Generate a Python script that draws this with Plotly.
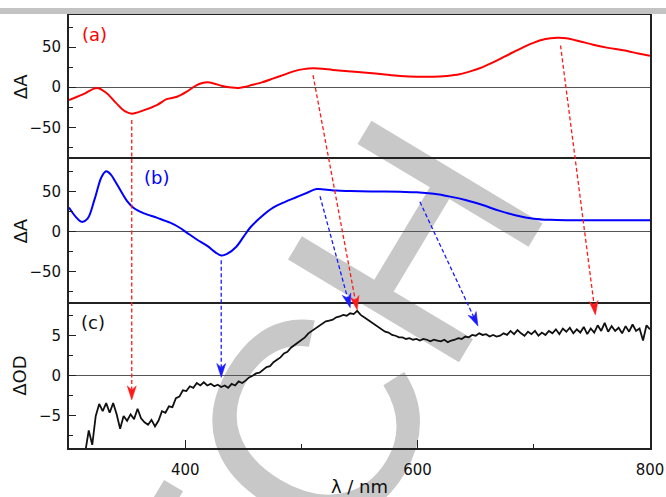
import plotly.graph_objects as go
from plotly.subplots import make_subplots

# ---------------- data ----------------
RED_WL = [300, 312, 324, 332, 340, 348, 354, 364, 376, 384, 393, 401, 406, 412, 419, 426,
          432, 440, 446, 452, 458, 466, 476, 486, 494, 502, 510, 518, 527, 540, 556, 570,
          585, 600, 613, 625, 636, 646, 656, 668, 680, 690, 699, 710, 720, 728, 740, 751,
          764, 777, 790, 800]
RED_DA = [-16, -9, -1, -7, -19, -30, -33, -29, -22, -15, -12, -6, -1, 4, 6, 4,
          1.5, -0.5, -1, 0.5, 3, 6, 11, 16, 20, 22.5, 23.5, 23, 21.5, 20, 18, 16,
          14, 13, 13, 14, 16, 20, 25, 33, 42, 49, 55, 60, 61.5, 61, 57, 53,
          49, 46, 42, 39]

BLUE_WL = [300, 306, 311, 316, 322, 328, 332, 336, 340, 344, 350, 356, 364, 376, 387, 395,
           401, 410, 419, 426, 431, 436, 444, 450, 456, 466, 476, 486, 496, 506, 513, 520,
           530, 542, 560, 585, 599, 614, 628, 642, 656, 670, 685, 700, 714, 730, 760, 800]
BLUE_DA = [30, 18, 12, 16, 40, 68, 75, 71, 62, 52, 38, 29, 23, 17, 11, 5,
           -1, -10, -18, -26, -30, -28, -19, -7, 5, 19, 30, 37, 43, 49, 53, 52.5,
           51, 50.5, 50, 49.5, 49, 47, 43.5, 39, 33, 26, 20, 16, 14.5, 14, 14, 14]

OD_WL = list(range(314, 801, 3))
OD = [-9.5, -6.8, -8.6, -5.0, -3.5, -4.4, -3.4, -4.6, -3.4, -4.8,
      -6.6, -5.0, -5.6, -4.8, -5.4, -4.1, -5.3, -5.8, -6.1, -5.5,
      -6.3, -5.6, -4.4, -4.6, -3.8, -3.9, -2.8, -2.6, -1.8, -1.9,
      -1.3, -1.5, -0.9, -1.2, -0.8, -1.2, -1.0, -1.3, -1.1, -1.4,
      -1.2, -1.5, -1.0, -1.2, -0.7, -0.9, -0.6, -0.2, 0.0, 0.3,
      0.4, 0.8, 1.1, 1.2, 1.7, 2.0, 2.3, 2.8, 3.0, 3.5,
      3.8, 4.1, 4.5, 4.8, 5.3, 5.6, 5.9, 6.2, 6.4, 6.8,
      6.9, 7.0, 7.3, 7.4, 7.6, 7.5, 7.8, 7.7, 8.1, 7.6,
      7.3, 7.0, 6.7, 6.4, 6.0, 5.8, 5.5, 5.4, 5.1, 5.0,
      4.8, 4.8, 4.6, 4.7, 4.5, 4.6, 4.4, 4.6, 4.5, 4.3,
      4.5, 4.4, 4.3, 4.5, 4.2, 4.4, 4.5, 4.7, 4.6, 4.9,
      4.8, 5.1, 5.0, 5.3, 5.1, 5.2, 4.9, 5.1, 4.9, 5.0,
      5.3, 5.1, 5.6, 5.2, 5.7, 5.3, 5.0, 5.5, 5.2, 5.6,
      5.0, 5.4, 5.1, 5.6, 5.3, 5.8, 5.2, 5.9, 5.5, 6.0,
      5.3, 5.8, 5.4, 6.1, 5.2, 5.9, 5.4, 6.3, 5.6, 6.6,
      5.5, 6.2, 5.6, 6.0, 5.3, 6.2, 5.5, 6.4, 5.6, 5.9,
      4.4, 6.3, 5.8]

# arrows: (colour, start wl, start panel, start value, end wl, end panel, end value)
ARROWS = [
    ("#ff1a1a", 354, "a", -41, 354, "c", -3.0),
    ("#1a1aff", 431, "b", -36, 431, "c", -0.2),
    ("#ff1a1a", 510, "a", 15, 548, "c", 8.2),
    ("#1a1aff", 516, "b", 44, 542, "c", 8.5),
    ("#1a1aff", 602, "b", 37, 652, "c", 6.2),
    ("#ff1a1a", 723, "a", 52, 753, "c", 7.6),
]

PANEL_LABELS = [("(a)", "a", 322, 66, "#ff0000"),
                ("(b)", "b", 375, 67, "#0000ff"),
                ("(c)", "c", 321, 6.6, "#111111")]
Y_TITLES = {"a": "ΔA", "b": "ΔA", "c": "ΔOD"}
X_TITLE = "λ / nm"
WATERMARK = [("E", 185, 584), ("C", 289, 412), ("H", 391, 227)]

X_RANGE = [300, 800]
Y_RANGE = {"a": [-90, 90], "b": [-90, 90], "c": [-9, 9]}
DOMAINS = {"a": (2 / 3, 1.0), "b": (1 / 3, 2 / 3), "c": (0.0, 1 / 3)}
AXIS = {"a": ("x", "y"), "b": ("x2", "y2"), "c": ("x3", "y3")}

# ---------------- geometry ----------------
W, H = 666, 497
ML, MR, MT, MB = 69, 16, 15, 49
PW, PH = W - ML - MR, H - MT - MB
FONT = "DejaVu Sans"
FRAME = "#222222"
LW = 1.8


def to_px(wl, panel, v):
    xp = (wl - X_RANGE[0]) / (X_RANGE[1] - X_RANGE[0])
    d0, d1 = DOMAINS[panel]
    r0, r1 = Y_RANGE[panel]
    yp = d0 + (v - r0) / (r1 - r0) * (d1 - d0)
    return ML + xp * PW, MT + (1 - yp) * PH


def to_paper(px, py):
    return (px - ML) / PW, 1 - (py - MT) / PH


fig = make_subplots(rows=3, cols=1, shared_xaxes=True, vertical_spacing=0)

fig.add_trace(go.Scatter(x=RED_WL, y=RED_DA, mode="lines",
                         line=dict(color="#ff0000", width=2, shape="spline", smoothing=1.0)),
              row=1, col=1)
fig.add_trace(go.Scatter(x=BLUE_WL, y=BLUE_DA, mode="lines",
                         line=dict(color="#0000ff", width=2, shape="spline", smoothing=1.0)),
              row=2, col=1)
fig.add_trace(go.Scatter(x=OD_WL, y=OD, mode="lines",
                         line=dict(color="#111111", width=1.8)),
              row=3, col=1)

shapes = []
# grey strip at the top of the page
shapes.append(dict(type="rect", xref="paper", yref="paper",
                   x0=(0 - ML) / PW, x1=(W - ML) / PW,
                   y0=1 - (14 - MT) / PH, y1=1 - (8 - MT) / PH,
                   fillcolor="#c3c3c3", line=dict(width=0), layer="above"))

# watermark letters (behind everything)
for letter, cx, cy in WATERMARK:
    xp, yp = to_paper(cx, cy)
    shapes.append(dict(type="rect", xref="paper", yref="paper",
                       x0=xp - 0.005, x1=xp + 0.005, y0=yp - 0.005, y1=yp + 0.005,
                       fillcolor="rgba(0,0,0,0)", line=dict(width=0), layer="below",
                       label=dict(text=letter, textangle=-59, textposition="middle center",
                                  font=dict(family="Liberation Sans", size=290, color="#c8c8c8"))))

# dashed arrows
HEAD_LEN, HEAD_HALF, NOTCH = 14, 4.5, 10
for col, w0, p0, v0, w1, p1, v1 in ARROWS:
    sx, sy = to_px(w0, p0, v0)
    tx, ty = to_px(w1, p1, v1)
    dx, dy = tx - sx, ty - sy
    n = (dx ** 2 + dy ** 2) ** 0.5
    ux, uy = dx / n, dy / n
    nx, ny = -uy, ux
    bx, by = tx - HEAD_LEN * ux, ty - HEAD_LEN * uy
    kx, ky = tx - NOTCH * ux, ty - NOTCH * uy
    a0 = to_paper(sx, sy)
    a1 = to_paper(kx, ky)
    shapes.append(dict(type="line", xref="paper", yref="paper",
                       x0=a0[0], y0=a0[1], x1=a1[0], y1=a1[1],
                       line=dict(color=col, width=1.3, dash="4px,2.5px"), layer="above"))
    pts = [(tx, ty), (bx + HEAD_HALF * nx, by + HEAD_HALF * ny), (kx, ky),
           (bx - HEAD_HALF * nx, by - HEAD_HALF * ny)]
    pp = [to_paper(*p) for p in pts]
    path = "M{:.5f},{:.5f} L{:.5f},{:.5f} L{:.5f},{:.5f} L{:.5f},{:.5f} Z".format(
        *[c for p in pp for c in p])
    shapes.append(dict(type="path", xref="paper", yref="paper", path=path,
                       fillcolor=col, line=dict(color=col, width=0.5), layer="above"))

annotations = []
for txt, panel, wl, v, col in PANEL_LABELS:
    xa, ya = AXIS[panel]
    annotations.append(dict(text=txt, x=wl, y=v, xref=xa, yref=ya, showarrow=False,
                            xanchor="center", yanchor="middle",
                            font=dict(family=FONT, size=18, color=col)))
for panel, txt in Y_TITLES.items():
    xa, ya = AXIS[panel]
    annotations.append(dict(text=txt, x=(20 - ML) / PW, y=0.5, xref="paper",
                            yref=ya + " domain", showarrow=False, textangle=-90,
                            xanchor="center", yanchor="middle",
                            font=dict(family=FONT, size=18, color="#111111")))

fig.update_layout(
    width=W, height=H, margin=dict(l=ML, r=MR, t=MT, b=MB, autoexpand=False),
    paper_bgcolor="white", plot_bgcolor="white", showlegend=False,
    font=dict(family=FONT, size=15, color="#111111"),
    shapes=shapes, annotations=annotations,
)

for panel, (xa, ya) in AXIS.items():
    row = "abc".index(panel) + 1
    d0, d1 = DOMAINS[panel]
    dt = 50 if panel != "c" else 5
    fig.update_yaxes(row=row, col=1, range=Y_RANGE[panel], domain=[d0, d1], automargin=False,
                     showline=True, mirror=True, linecolor=FRAME, linewidth=LW,
                     showgrid=False, zeroline=True, zerolinecolor="#555555", zerolinewidth=1,
                     ticks="inside", ticklen=7, tickwidth=1.3, tickcolor=FRAME,
                     dtick=dt, tick0=0, ticklabelstandoff=3,
                     tickfont=dict(family=FONT, size=15, color="#111111"),
                     minor=dict(ticks="inside", ticklen=4, tickwidth=1.1, tickcolor=FRAME,
                                dtick=dt / 2, showgrid=False))

# top panels: only their top edge is drawn so each boundary is a single line
for row in (1, 2):
    fig.update_xaxes(row=row, col=1, range=X_RANGE, side="top", showline=True, mirror=False,
                     automargin=False,
                     linecolor=FRAME, linewidth=LW, showgrid=False, zeroline=False,
                     ticks="", showticklabels=False)

fig.update_xaxes(row=3, col=1, range=X_RANGE, showline=True, mirror=True, automargin=False,
                 linecolor=FRAME, linewidth=LW, showgrid=False, zeroline=False,
                 ticks="inside", ticklen=8, tickwidth=1.3, tickcolor=FRAME,
                 showticklabels=True, dtick=200, tick0=400, ticklabelstandoff=7,
                 tickfont=dict(family=FONT, size=15, color="#111111"),
                 minor=dict(ticks="inside", ticklen=4, tickwidth=1.1, tickcolor=FRAME,
                            dtick=100, showgrid=False),
                 title=dict(text=X_TITLE, standoff=14,
                            font=dict(family=FONT, size=18, color="#111111")))

fig.write_html("out.html")
